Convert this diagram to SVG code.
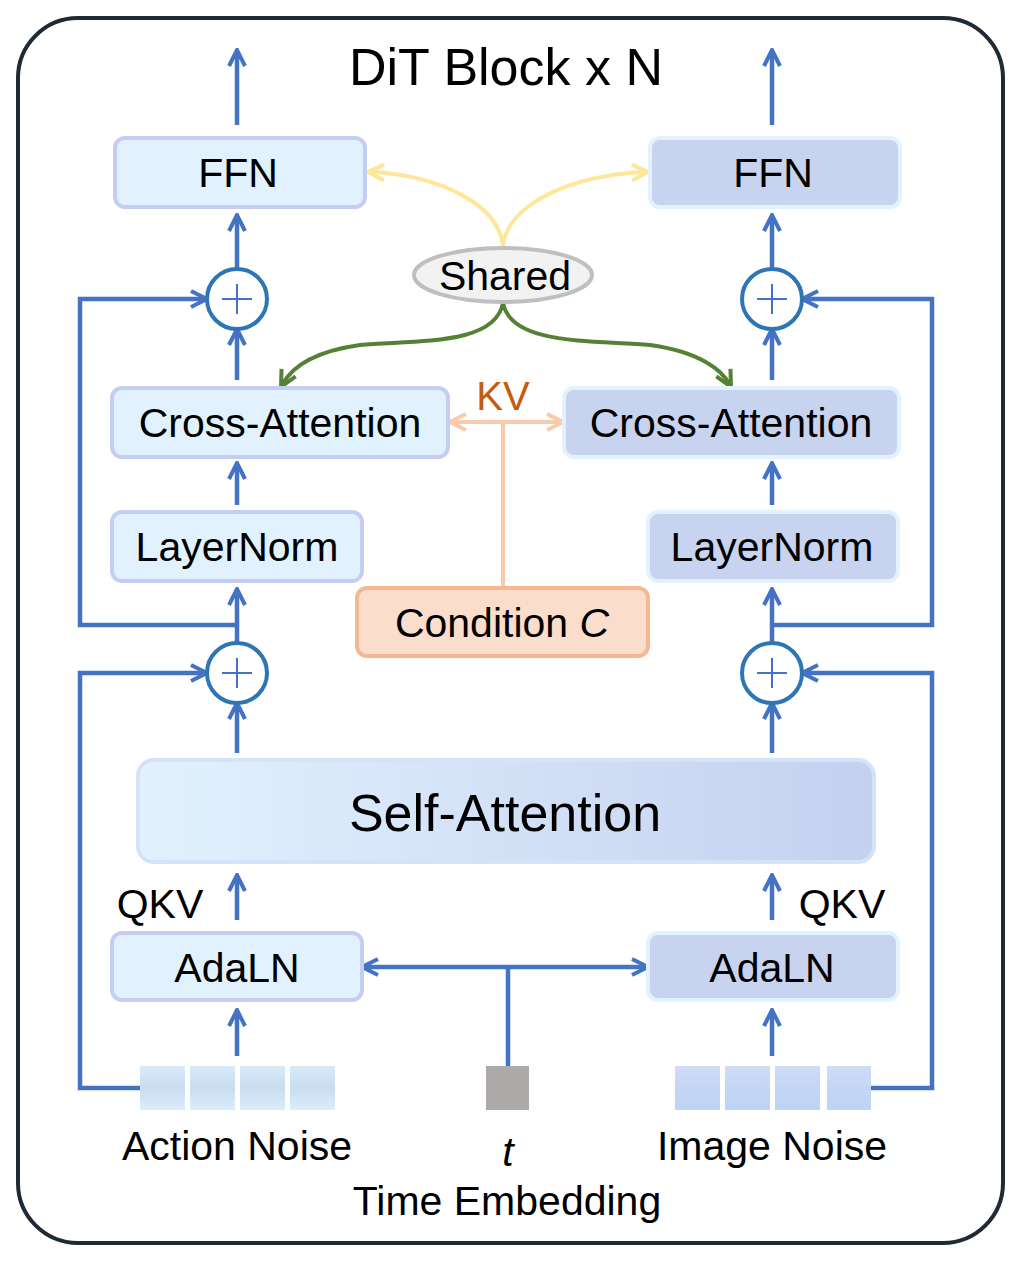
<svg xmlns="http://www.w3.org/2000/svg" width="1020" height="1263" viewBox="0 0 1020 1263">
<style>
text{font-family:"Liberation Sans",Arial,sans-serif;fill:#000;text-anchor:middle}
.l{fill:#E1F2FE;stroke:#C5CDF3;stroke-width:4}
.r{fill:#C8D3EF;stroke:#E2F2FE;stroke-width:4}
.b{fill:none;stroke:#4472C4;stroke-width:4.5}
.pc{fill:#fff;stroke:#2E75B6;stroke-width:4}
.pl{stroke:#4472C4;stroke-width:2;fill:none}
.t{font-size:41px}
</style>
<defs>
<marker id="abig" markerWidth="20" markerHeight="20" refX="16" refY="10" orient="auto" markerUnits="userSpaceOnUse"><path d="M2,2 L18,10 L2,18" fill="none" stroke="#4472C4" stroke-width="4"/></marker>
<marker id="ay" markerWidth="20" markerHeight="20" refX="16" refY="10" orient="auto" markerUnits="userSpaceOnUse"><path d="M2,2 L18,10 L2,18" fill="none" stroke="#FFE699" stroke-width="4"/></marker>
<marker id="ag" markerWidth="20" markerHeight="20" refX="16" refY="10" orient="auto" markerUnits="userSpaceOnUse"><path d="M2,2 L18,10 L2,18" fill="none" stroke="#548235" stroke-width="4"/></marker>
<marker id="ao" markerWidth="20" markerHeight="20" refX="16" refY="10" orient="auto" markerUnits="userSpaceOnUse"><path d="M2,2 L18,10 L2,18" fill="none" stroke="#F8CBAD" stroke-width="4"/></marker>
<linearGradient id="sg" x1="0" x2="1"><stop offset="0" stop-color="#E1F2FE"/><stop offset="1" stop-color="#C5D0EF"/></linearGradient>
<linearGradient id="nl" x1="0" y1="0" x2="0" y2="1"><stop offset="0" stop-color="#D8EAF8"/><stop offset="0.5" stop-color="#C9DDF0"/><stop offset="1" stop-color="#DCEEFB"/></linearGradient>
<linearGradient id="nr" x1="0" y1="0" x2="0" y2="1"><stop offset="0" stop-color="#D0DCF6"/><stop offset="0.5" stop-color="#C4D6F4"/><stop offset="1" stop-color="#BCD4F6"/></linearGradient>
</defs>
<rect x="18" y="18" width="985" height="1225" rx="60" fill="#fff" stroke="#1F2A36" stroke-width="4"/>
<text x="506" y="85" font-size="52">DiT Block x N</text>

<g id="connectors">
<g class="b" marker-end="url(#abig)">
<path d="M237,125 V52"/><path d="M772,125 V52"/>
<path d="M237,268 V217"/><path d="M772,268 V217"/>
<path d="M237,380 V331"/><path d="M772,380 V331"/>
<path d="M237,505 V465"/><path d="M772,505 V465"/>
<path d="M237,643 V591"/><path d="M772,643 V591"/>
<path d="M237,753 V705"/><path d="M772,753 V705"/>
<path d="M237,920 V877"/><path d="M772,920 V877"/>
<path d="M237,1056 V1012"/><path d="M772,1056 V1012"/>
<path d="M140,1088 H80 V673 H205"/><path d="M871,1088 H932 V673 H804"/>
<path d="M237,625 H80 V299 H205"/><path d="M772,625 H932 V299 H804"/>
<path d="M508,967 H364"/><path d="M508,967 H646"/>
</g>
<path class="b" d="M508,1066 V967"/>
<g fill="none" stroke-width="4">
<path d="M503,247 C500,205 440,175 370,172" stroke="#FFE699" marker-end="url(#ay)"/>
<path d="M503,247 C506,205 570,175 646,172" stroke="#FFE699" marker-end="url(#ay)"/>
<path d="M503,303 C495,345 420,340 360,345 C310,352 290,370 282,385" stroke="#548235" marker-end="url(#ag)"/>
<path d="M503,303 C511,345 590,340 650,345 C700,352 722,370 730,385" stroke="#548235" marker-end="url(#ag)"/>
<path d="M503,586 V422" stroke="#F8CBAD"/>
<path d="M503,422 H452" stroke="#F8CBAD" marker-end="url(#ao)"/>
<path d="M503,422 H561" stroke="#F8CBAD" marker-end="url(#ao)"/>
</g>
</g>

<g id="ffn-l"><rect class="l" x="115" y="138" width="250" height="69" rx="10"/><text class="t" x="238" y="187">FFN</text></g>
<g id="ffn-r"><rect class="r" x="650" y="138" width="250" height="69" rx="10"/><text class="t" x="773" y="187">FFN</text></g>
<g id="plus-l1"><circle class="pc" cx="237" cy="299" r="30"/><path class="pl" d="M222,299 H252 M237,284 V314"/></g>
<g id="plus-r1"><circle class="pc" cx="772" cy="299" r="30"/><path class="pl" d="M757,299 H787 M772,284 V314"/></g>
<g id="plus-l2"><circle class="pc" cx="237" cy="673" r="30"/><path class="pl" d="M222,673 H252 M237,658 V688"/></g>
<g id="plus-r2"><circle class="pc" cx="772" cy="673" r="30"/><path class="pl" d="M757,673 H787 M772,658 V688"/></g>
<g id="shared"><ellipse cx="503" cy="275" rx="89" ry="27" fill="#F2F2F2" stroke="#BFBFBF" stroke-width="4"/><text class="t" x="505" y="290" font-size="40">Shared</text></g>
<g id="kv"><text x="503" y="410" font-size="40" style="fill:#C55A11">KV</text></g>
<g id="ca-l"><rect class="l" x="112" y="388" width="336" height="69" rx="10"/><text class="t" x="280" y="437">Cross-Attention</text></g>
<g id="ca-r"><rect class="r" x="564" y="388" width="335" height="69" rx="10"/><text class="t" x="731" y="437">Cross-Attention</text></g>
<g id="ln-l"><rect class="l" x="112" y="512" width="250" height="69" rx="10"/><text class="t" x="237" y="561">LayerNorm</text></g>
<g id="ln-r"><rect class="r" x="648" y="512" width="250" height="69" rx="10"/><text class="t" x="772" y="561">LayerNorm</text></g>
<g id="cond"><rect x="357" y="588" width="291" height="68" rx="10" fill="#FADDCB" stroke="#F4B894" stroke-width="4"/><text class="t" x="502" y="637">Condition <tspan font-style="italic">C</tspan></text></g>
<g id="self"><rect x="138" y="760" width="736" height="102" rx="16" fill="url(#sg)" stroke="#D5E3F8" stroke-width="4"/><text x="505" y="831" font-size="52">Self-Attention</text></g>
<text class="t" x="160" y="918">QKV</text><text class="t" x="842" y="918">QKV</text>
<g id="ada-l"><rect class="l" x="112" y="933" width="250" height="67" rx="10"/><text class="t" x="237" y="982">AdaLN</text></g>
<g id="ada-r"><rect class="r" x="648" y="933" width="250" height="67" rx="10"/><text class="t" x="772" y="982">AdaLN</text></g>
<g id="action-noise" fill="url(#nl)"><rect x="140" y="1066" width="45" height="44"/><rect x="190" y="1066" width="45" height="44"/><rect x="240" y="1066" width="45" height="44"/><rect x="290" y="1066" width="45" height="44"/><text class="t" x="237" y="1160">Action Noise</text></g>
<g id="image-noise" fill="url(#nr)"><rect x="675" y="1066" width="45" height="44"/><rect x="725" y="1066" width="45" height="44"/><rect x="775" y="1066" width="45" height="44"/><rect x="827" y="1066" width="44" height="44"/><text class="t" x="772" y="1160">Image Noise</text></g>
<g id="time"><rect x="486" y="1066" width="43" height="44" fill="#AEAAAA"/><text class="t" x="508" y="1166" font-style="italic">t</text><text class="t" x="507" y="1215">Time Embedding</text></g>
</svg>
